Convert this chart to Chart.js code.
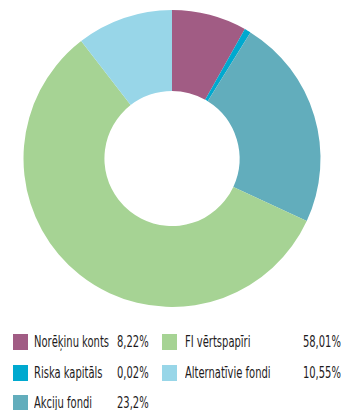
<!DOCTYPE html>
<html><head><meta charset="utf-8">
<script src="https://cdn.jsdelivr.net/npm/chart.js@4"></script>
<style>
html,body{margin:0;padding:0;background:#fff;width:344px;height:410px;overflow:hidden;}
#wrap{position:absolute;left:0;top:10px;width:344px;height:297px;}
.lg{position:absolute;font-family:"DejaVu Sans Condensed","Liberation Sans Narrow",sans-serif;font-size:16px;color:#1e1b1c;white-space:nowrap;line-height:16px;}
.sw{position:absolute;width:15px;height:16px;}
</style></head><body>
<div id="wrap"><canvas id="c"></canvas></div>
<div id="legend"></div>
<script>
const categories = ['Norēķinu konts','Riska kapitāls','Akciju fondi','FI vērtspapīri','Alternatīvie fondi'];
// slice sizes as drawn in the picture (percent)
const shares = [8.22, 0.7, 23.2, 58.01, 10.55];
// percentages as printed in the legend
const pctLabels = ['8,22%','0,02%','23,2%','58,01%','10,55%'];
const colors = ['#a15c84','#00a9cf','#62adbc','#a6d394','#98d6e8'];

new Chart(document.getElementById('c'), {
  type:'doughnut',
  data:{labels:categories,datasets:[{data:shares,backgroundColor:colors,borderWidth:0}]},
  options:{responsive:true,maintainAspectRatio:false,animation:false,cutout:'45.5%',
    layout:{padding:0},
    plugins:{legend:{display:false},tooltip:{enabled:false}}}
});

// uniform horizontal condensing so the font looks like the narrow original
const mc=document.createElement('canvas').getContext('2d');
mc.font='16px "DejaVu Sans Condensed"';
const sx = 75 / mc.measureText(categories[0]).width;

const leg = document.getElementById('legend');
const slots = [
  {i:0,sx:13,tx:34,px:117,y:334},
  {i:3,sx:162,tx:185,pr:3,y:334},
  {i:1,sx:13,tx:34,px:117,y:365},
  {i:4,sx:162,tx:185,pr:3,y:365},
  {i:2,sx:13,tx:34,px:117,y:395}
];
function txt(str,y,left,right){
  const t=document.createElement('div');t.className='lg';t.textContent=str;t.style.top=y+'px';
  if(right!==undefined){t.style.right=right+'px';t.style.transformOrigin='right center';}
  else{t.style.left=left+'px';t.style.transformOrigin='left center';}
  t.style.transform='scaleX('+sx+')';
  leg.appendChild(t);
}
slots.forEach(s=>{
  const sw=document.createElement('div');sw.className='sw';
  sw.style.left=s.sx+'px';sw.style.top=s.y+'px';sw.style.background=colors[s.i];leg.appendChild(sw);
  txt(categories[s.i],s.y,s.tx);
  txt(pctLabels[s.i],s.y,s.px,s.pr);
});
</script>
</body></html>
